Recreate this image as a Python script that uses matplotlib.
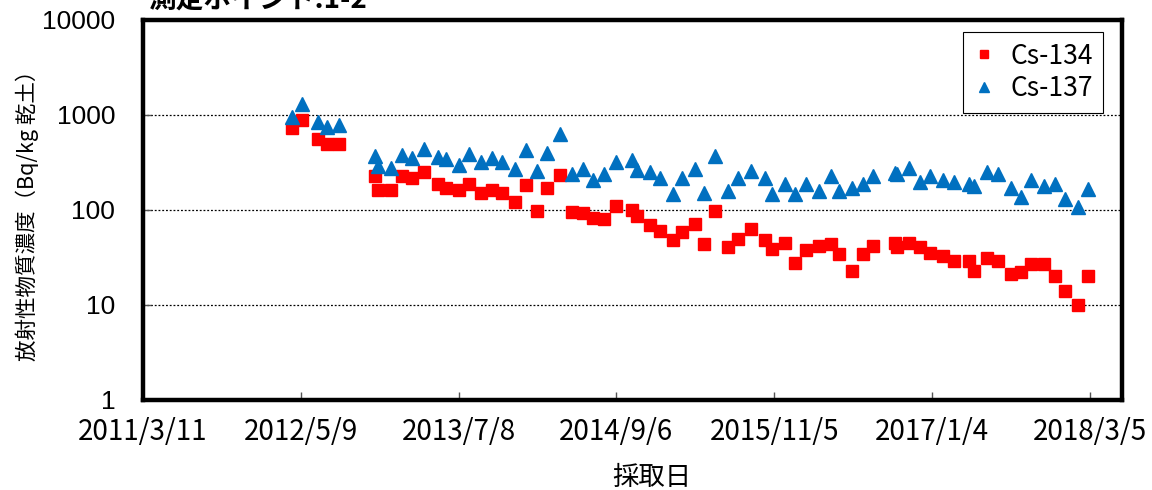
import matplotlib.pyplot as plt
import pandas as pd

# sampling dates and measured values (Bq/kg dry soil)
dates = [
    "2012-04-16", "2012-05-13", "2012-06-25", "2012-07-19", "2012-08-21",
    "2012-11-25", "2012-12-04", "2013-01-07", "2013-02-05", "2013-03-05",
    "2013-04-07", "2013-05-13", "2013-06-03", "2013-07-09", "2013-08-05",
    "2013-09-07", "2013-10-06", "2013-11-03", "2013-12-08", "2014-01-05",
    "2014-02-03", "2014-03-02", "2014-04-08", "2014-05-09", "2014-06-07",
    "2014-07-05", "2014-08-03", "2014-09-06", "2014-10-18", "2014-10-31",
    "2014-12-05", "2015-01-02", "2015-02-06", "2015-03-02", "2015-04-05",
    "2015-05-01", "2015-05-29", "2015-07-03", "2015-07-31", "2015-09-04",
    "2015-10-12", "2015-10-30", "2015-12-04", "2015-12-31", "2016-01-29",
    "2016-03-04", "2016-04-07", "2016-04-29", "2016-06-03", "2016-06-30",
    "2016-07-28", "2016-09-26", "2016-09-30", "2016-11-03", "2016-12-01",
    "2016-12-30", "2017-02-02", "2017-03-03", "2017-04-14", "2017-04-27",
    "2017-06-01", "2017-06-29", "2017-08-03", "2017-08-30", "2017-09-27",
    "2017-11-01", "2017-11-30", "2017-12-27", "2018-01-31", "2018-02-28",
]
cs134 = [
    724, 892, 559, 499, 491,
    230, 161, 161, 230, 219,
    251, 189, 171, 161, 190,
    151, 161, 152, 120, 182,
    98, 171, 232, 96, 92,
    83, 81, 111, 100, 86,
    69, 60, 48, 59, 71,
    44, 98, 41, 50, 63,
    48, 39, 45, 28, 38,
    42, 44, 34, 23, 34,
    42, 45, 41, 45, 41,
    35, 33, 29, 29, 23,
    31, 29, 21, 22, 27,
    27, 20, 14, 10, 20,
]
cs137 = [
    960, 1296, 850, 753, 779,
    373, 290, 275, 382, 352,
    442, 364, 344, 295, 391,
    323, 350, 318, 268, 428,
    257, 395, 631, 238, 268,
    207, 238, 318, 336, 264,
    249, 216, 149, 216, 268,
    150, 370, 158, 216, 257,
    219, 147, 188, 147, 188,
    158, 228, 158, 169, 188,
    228, 245, 238, 279, 199,
    228, 207, 199, 188, 179,
    249, 239, 169, 137, 208,
    180, 188, 129, 108, 166,
]
tick_dates = ["2011-03-11", "2012-05-09", "2013-07-08", "2014-09-06",
              "2015-11-05", "2017-01-04", "2018-03-05"]
tick_labels = ["2011/3/11", "2012/5/9", "2013/7/8", "2014/9/6",
               "2015/11/5", "2017/1/4", "2018/3/5"]
y_ticks = [1, 10, 100, 1000, 10000]

jp = ["Noto Sans CJK JP", "DejaVu Sans"]

x = pd.to_datetime(dates)

fig = plt.figure(figsize=(11.52, 4.9), dpi=100)
ax = fig.add_axes([0.1241, 0.1837, 0.8499, 0.7755])

ax.plot(x, cs134, linestyle="none", marker="s", markersize=8.5,
        color="#ff0000", label="Cs-134")
ax.plot(x, cs137, linestyle="none", marker="^", markersize=9.5,
        color="#0070c0", label="Cs-137")

ax.set_yscale("log")
ax.set_ylim(1, 10000)
ax.set_yticks(y_ticks)
ax.set_yticklabels([str(v) for v in y_ticks], family="Liberation Sans", fontsize=19)
ax.minorticks_off()
ax.set_xlim(pd.Timestamp("2011-03-11"), pd.Timestamp("2018-05-30"))
ax.set_xticks(pd.to_datetime(tick_dates))
ax.set_xticklabels(tick_labels, family=jp, fontsize=20)

ax.tick_params(axis="both", direction="in", length=6, width=1, color="#555555")
ax.tick_params(axis="y", pad=20)
ax.tick_params(axis="x", pad=12)

for v in y_ticks[1:-1]:
    ax.axhline(v, color="black", linestyle=(0, (1.5, 1.5)), linewidth=0.9, zorder=0)

for s in ax.spines.values():
    s.set_linewidth(3.2)
    s.set_color("black")

ax.set_xlabel("採取日", family=jp, fontsize=19)
ax.xaxis.set_label_coords(0.52, -0.168)
ax.set_ylabel("放射性物質濃度（Bq/kg 乾土）", family=jp, fontsize=15.5)
ax.yaxis.set_label_coords(-0.106, 0.5)

leg = ax.legend(loc="upper right", bbox_to_anchor=(0.981, 0.968), borderaxespad=0,
                prop={"family": jp, "size": 19}, fancybox=False, framealpha=1,
                handlelength=0.8, handletextpad=0.6, markerscale=0.75,
                borderpad=0.4, labelspacing=0.2)
leg.get_frame().set_edgecolor("black")
leg.get_frame().set_linewidth(0.8)

fig.text(148 / 1152, 1 - 8 / 490, "測定ポイント:1-2", family=jp, fontsize=20,
         fontweight="bold", va="baseline", ha="left")

fig.savefig("out.png", dpi=100)
